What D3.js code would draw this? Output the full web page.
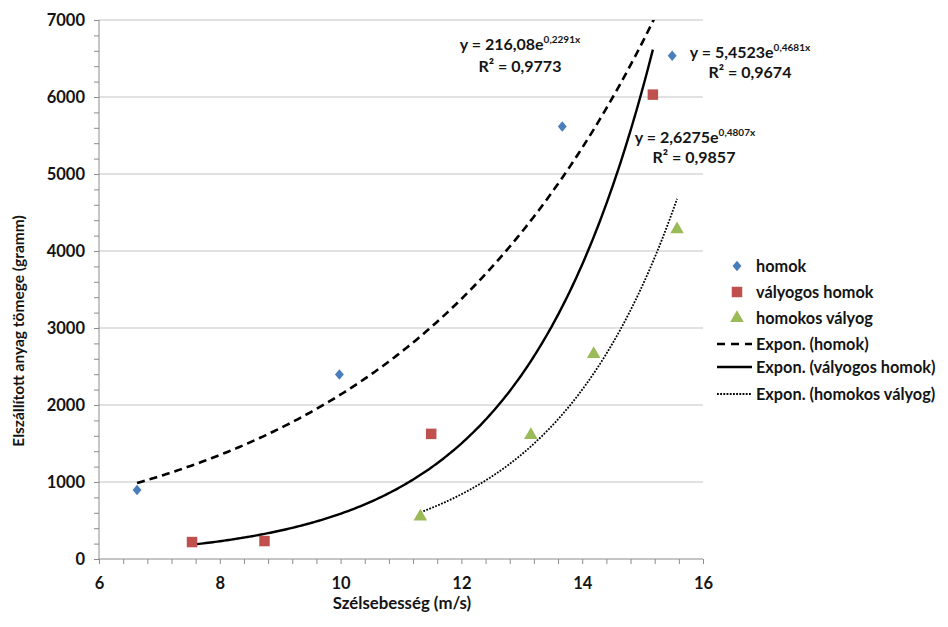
<!DOCTYPE html>
<html><head><meta charset="utf-8">
<script src="https://cdn.jsdelivr.net/npm/d3@7"></script>
<style>body{margin:0;background:#fff}text{font-family:Lato,"Open Sans",sans-serif;font-weight:bold;fill:#141414}</style>
</head><body><svg id="c" width="948" height="627"></svg>
<script>
// Data
const homokX = [6.63, 9.98, 13.67, 15.49];
const homokY = [895, 2395, 5616, 6537];
const vhX = [7.54, 8.74, 11.50, 15.17];
const vhY = [220, 233, 1625, 6031];
const hvX = [11.32, 13.15, 14.19, 15.57];
const hvY = [552, 1610, 2662, 4280];
// Trendline coefficients (y = a*e^(b*x)) as printed
const trendA = [216.08, 5.4523, 2.6275];
const trendB = [0.2291, 0.4681, 0.4807];
const eqMain = ["y = 216,08e", "y = 5,4523e", "y = 2,6275e"];
const eqSup = ["0,2291x", "0,4681x", "0,4807x"];
const eqR2 = ["R² = 0,9773", "R² = 0,9674", "R² = 0,9857"];
const seriesNames = ["homok", "vályogos homok", "homokos vályog"];
const trendNames = ["Expon. (homok)", "Expon. (vályogos homok)", "Expon. (homokos vályog)"];
const xTicks = [6, 8, 10, 12, 14, 16];
const yTicks = [0, 1000, 2000, 3000, 4000, 5000, 6000, 7000];
const colors = ["#4a7ebb", "#c0504d", "#9bbb59"];

const svg = d3.select("#c");
svg.append("rect").attr("width", 948).attr("height", 627).attr("fill", "#fff");
const x = d3.scaleLinear().domain([6, 16]).range([99, 703]);
const y = d3.scaleLinear().domain([0, 7000]).range([559, 20]);

svg.append("defs").append("clipPath").attr("id", "clip")
  .append("rect").attr("x", 99).attr("y", 20).attr("width", 604).attr("height", 539);

// gridlines
svg.append("g").selectAll("line").data(yTicks.filter(d => d > 0)).join("line")
  .attr("x1", 99).attr("x2", 703).attr("y1", d => y(d)).attr("y2", d => y(d))
  .attr("stroke", "#c3c3c3").attr("stroke-width", 1);

// axes
const axCol = "#8c8c8c";
const gx = svg.append("g").attr("transform", "translate(0,559)");
gx.call(d3.axisBottom(x).tickValues(d3.range(6, 16.001, 0.4)).tickSize(5).tickFormat(""));
gx.call(g => g.select(".domain").remove());
gx.append("line").attr("x1", 99).attr("x2", 703).attr("stroke", axCol);
gx.selectAll(".tick line").attr("stroke", axCol);
const gxl = svg.append("g").attr("transform", "translate(0,559)")
  .call(d3.axisBottom(x).tickValues(xTicks).tickSize(0).tickPadding(18).tickFormat(d3.format("d")));
gxl.select(".domain").remove();
gxl.selectAll("text").attr("font-size", 16.5).attr("fill", "#141414").attr("font-family", "Lato").attr("font-weight", "bold");

const gy = svg.append("g").attr("transform", "translate(99,0)");
gy.call(d3.axisLeft(y).tickValues(d3.range(0, 7001, 200)).tickSize(5).tickFormat(""));
gy.call(g => g.select(".domain").remove());
gy.append("line").attr("y1", 20).attr("y2", 559).attr("stroke", axCol);
gy.selectAll(".tick line").attr("stroke", axCol);
const gyl = svg.append("g").attr("transform", "translate(99,0)")
  .call(d3.axisLeft(y).tickValues(yTicks).tickSize(0).tickPadding(14).tickFormat(d3.format("d")));
gyl.select(".domain").remove();
gyl.selectAll("text").attr("font-size", 16.5).attr("fill", "#141414").attr("font-family", "Lato").attr("font-weight", "bold");

// trendlines
const seriesX = [homokX, vhX, hvX];
const dashes = ["8,5", null, "1.8,1.4"];
const widths = [2.6, 2.4, 1.8];
const line = d3.line().x(d => x(d[0])).y(d => y(d[1])).curve(d3.curveLinear);
const tg = svg.append("g").attr("clip-path", "url(#clip)");
seriesX.forEach((xs, i) => {
  const [lo, hi] = d3.extent(xs);
  const pts = d3.range(0, 201).map(k => { const xv = lo + (hi - lo) * k / 200; return [xv, trendA[i] * Math.exp(trendB[i] * xv)]; });
  tg.append("path").attr("d", line(pts)).attr("fill", "none").attr("stroke", "#000")
    .attr("stroke-width", widths[i]).attr("stroke-dasharray", dashes[i]);
});

// markers
function marker(g, i, cx, cy) {
  if (i === 0) {
    g.append("path").attr("d", d3.symbol(d3.symbolDiamond2, 70)()).attr("transform", `translate(${cx},${cy}) scale(0.85,1)`).attr("fill", colors[i]);
  } else if (i === 1) {
    g.append("path").attr("d", d3.symbol(d3.symbolSquare, 110)()).attr("transform", `translate(${cx},${cy})`).attr("fill", colors[i]);
  } else {
    g.append("path").attr("d", d3.symbol(d3.symbolTriangle, 80)()).attr("transform", `translate(${cx},${cy})`).attr("fill", colors[i]);
  }
}
const seriesY = [homokY, vhY, hvY];
const mg = svg.append("g");
seriesX.forEach((xs, i) => xs.forEach((xv, k) => marker(mg, i, x(xv), y(seriesY[i][k]))));

// equations
const eqPos = [[520, 50, 520, 72], [750, 58, 750, 78], [695, 143, 694, 163]];
eqPos.forEach((p, i) => {
  const t = svg.append("text").attr("x", p[0]).attr("y", p[1]).attr("text-anchor", "middle").attr("font-size", 16);
  t.append("tspan").text(eqMain[i]);
  t.append("tspan").attr("dy", -7).attr("font-size", 10).text(eqSup[i]);
  svg.append("text").attr("x", p[2]).attr("y", p[3]).attr("text-anchor", "middle").attr("font-size", 16).text(eqR2[i]);
});

// legend
const lg = svg.append("g");
const ly = [266, 292, 318, 344, 367, 394];
for (let i = 0; i < 3; i++) {
  marker(lg, i, 737, ly[i]);
  lg.append("text").attr("x", 756).attr("y", ly[i]).attr("dy", "0.35em").attr("font-size", 16.3).text(seriesNames[i]);
}
for (let i = 0; i < 3; i++) {
  lg.append("line").attr("x1", 717).attr("x2", 752).attr("y1", ly[i + 3]).attr("y2", ly[i + 3])
    .attr("stroke", "#000").attr("stroke-width", widths[i]).attr("stroke-dasharray", i === 0 ? "8,6" : dashes[i]);
  lg.append("text").attr("x", 756).attr("y", ly[i + 3]).attr("dy", "0.35em").attr("font-size", 16.3).text(trendNames[i]);
}

// axis titles
svg.append("text").attr("x", 402).attr("y", 609).attr("text-anchor", "middle").attr("font-size", 16.8).text("Szélsebesség (m/s)");
svg.append("text").attr("transform", "translate(24,331) rotate(-90)").attr("text-anchor", "middle").attr("font-size", 15.5).text("Elszállított anyag tömege (gramm)");
</script></body></html>
